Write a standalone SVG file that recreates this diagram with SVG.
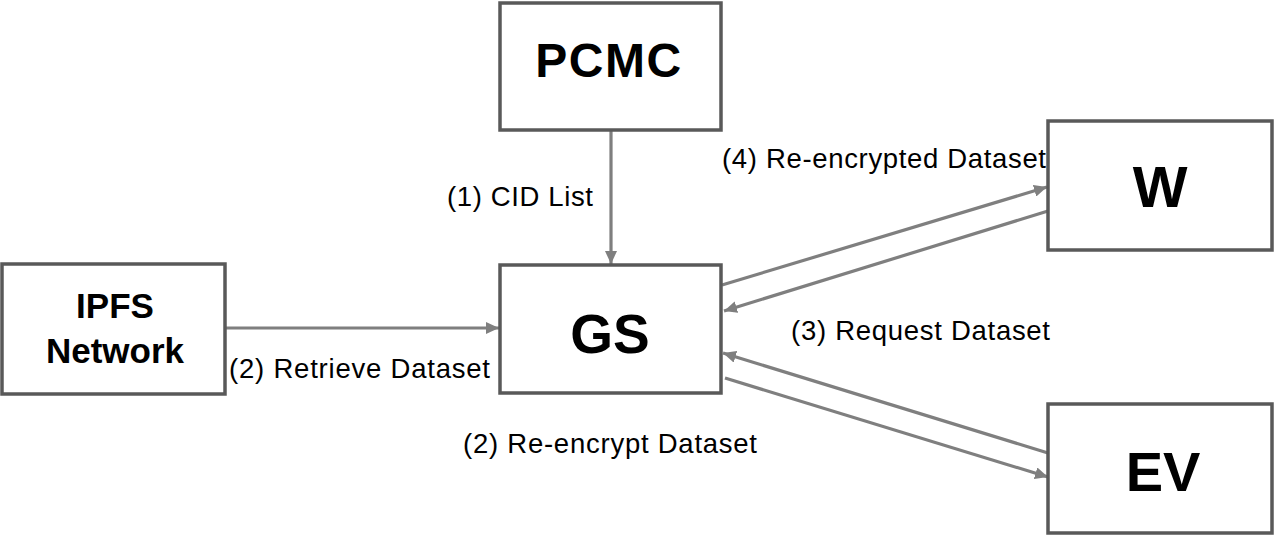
<svg xmlns="http://www.w3.org/2000/svg" width="1274" height="540" viewBox="0 0 1274 540">
<defs>
<style>
.box{fill:#fff;stroke:#595959;stroke-width:3.5}
.lbl{font-family:"Liberation Sans",Arial,sans-serif;font-weight:bold;fill:#000;text-anchor:middle}
.t{font-family:"Liberation Sans",Arial,sans-serif;font-size:27.5px;fill:#000}
.c{stroke:#7f7f7f;stroke-width:3.2;fill:none;marker-end:url(#ah)}
</style>
<marker id="ah" markerUnits="userSpaceOnUse" markerWidth="14" markerHeight="12" refX="13" refY="6" orient="auto">
<path d="M0,0 L13,6 L0,12 Z" fill="#7f7f7f"/>
</marker>
</defs>
<rect width="1274" height="540" fill="#fff"/>
<g id="connectors">
<path class="c" d="M611,131 L611,264"/>
<path class="c" d="M226,328 L499,328"/>
<path class="c" d="M722,285 L1047,187"/>
<path class="c" d="M1048,211 L724,311"/>
<path class="c" d="M1048,453 L723,353"/>
<path class="c" d="M725,378 L1048,477"/>
<text class="t" x="447" y="206" textLength="146" lengthAdjust="spacing">(1) CID List</text>
<text class="t" x="229" y="378" textLength="261" lengthAdjust="spacing">(2) Retrieve Dataset</text>
<text class="t" x="463" y="453" textLength="294" lengthAdjust="spacing">(2) Re-encrypt Dataset</text>
<text class="t" x="791" y="340" textLength="259" lengthAdjust="spacing">(3) Request Dataset</text>
<text class="t" x="722" y="168" textLength="324" lengthAdjust="spacing">(4) Re-encrypted Dataset</text>
</g>
<g id="pcmc">
<rect class="box" x="500" y="3" width="221" height="127"/>
<text class="lbl" x="609" y="77" font-size="48" letter-spacing="1.5">PCMC</text>
</g>
<g id="gs">
<rect class="box" x="500" y="265" width="221" height="128"/>
<text class="lbl" x="610" y="353" font-size="55">GS</text>
</g>
<g id="ipfs">
<rect class="box" x="2" y="264" width="223" height="130"/>
<text class="lbl" x="115" y="318" font-size="35">IPFS</text>
<text class="lbl" x="115" y="363" font-size="35">Network</text>
</g>
<g id="w">
<rect class="box" x="1048" y="121" width="224" height="129"/>
<text class="lbl" x="1160" y="207" font-size="58">W</text>
</g>
<g id="ev">
<rect class="box" x="1048" y="404" width="224" height="129"/>
<text class="lbl" x="1163" y="491" font-size="56">EV</text>
</g>
</svg>
